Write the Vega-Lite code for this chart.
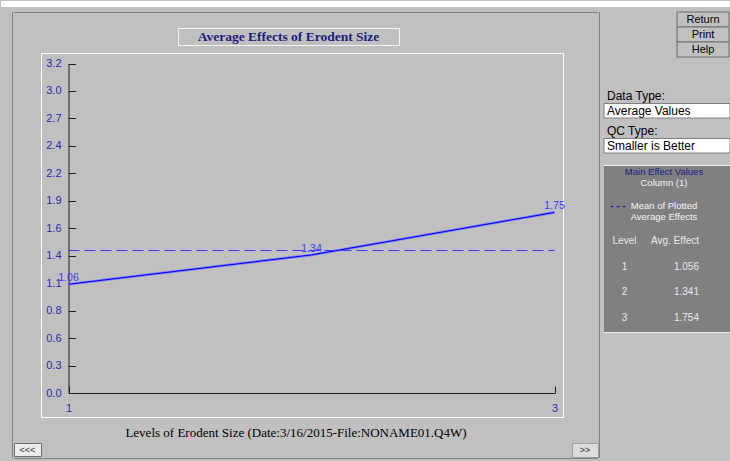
{
  "$schema": "https://vega.github.io/schema/vega-lite/v6.json",
  "usermeta": {"embedOptions": {"actions": false}},
  "background": "#c0c0c0",
  "padding": 0,
  "config": {
    "view": {"stroke": null},
    "font": "Liberation Sans",
    "axis": {
      "grid": false,
      "domainColor": "#1e1e1e",
      "tickColor": "#1e1e1e",
      "tickSize": -7,
      "labelColor": "#2c2ca6",
      "labelFont": "Liberation Sans",
      "labelFontSize": 11,
      "labelFlush": false,
      "labelOverlap": false
    }
  },
  "datasets": {
    "effects": [
      {"level": 1, "effect": 1.056},
      {"level": 2, "effect": 1.341},
      {"level": 3, "effect": 1.754}
    ],
    "buttons": [{"button": "Return"}, {"button": "Print"}, {"button": "Help"}],
    "dataType": [{"row": "label", "text": "Data Type:"}, {"row": "value", "text": "Average Values"}],
    "qcType": [{"row": "label", "text": "QC Type:"}, {"row": "value", "text": "Smaller is Better"}]
  },
  "spacing": 4,
  "vconcat": [
    {"width": 730, "height": 5, "view": {"fill": "#ffffff", "stroke": "#ffffff"}, "data": {"values": []}, "mark": "rect"},
    {
      "spacing": 0,
      "hconcat": [
        {"width": 11, "height": 452, "data": {"values": []}, "mark": "rect"},
        {"width": 1, "height": 446, "view": {"fill": "#808080"}, "data": {"values": []}, "mark": "rect"},
        {
          "spacing": 0,
          "vconcat": [
            {"width": 584, "height": 1, "view": {"fill": "#808080"}, "data": {"values": []}, "mark": "rect"},
            {"width": 1, "height": 14, "data": {"values": []}, "mark": "rect"},
            {
              "spacing": 0,
              "hconcat": [
                {"width": 163, "height": 1, "data": {"values": []}, "mark": "rect"},
                {
                  "width": 221,
                  "height": 17,
                  "view": {"stroke": "#f4f4f4"},
                  "data": {"values": [{"heading": "Average Effects of Erodent Size"}]},
                  "mark": {"type": "text", "font": "Liberation Serif", "fontSize": 13.5, "fontWeight": "bold", "color": "#1c1c7c"},
                  "encoding": {"text": {"field": "heading"}}
                }
              ]
            },
            {"width": 1, "height": 6, "data": {"values": []}, "mark": "rect"},
            {
              "spacing": 0,
              "hconcat": [
                {"width": 26, "height": 1, "data": {"values": []}, "mark": "rect"},
                {
                  "width": 522,
                  "height": 364,
                  "view": {"stroke": "#ffffff"},
                  "data": {"name": "effects"},
                  "encoding": {
                    "x": {
                      "field": "level",
                      "type": "quantitative",
                      "scale": {"domain": [1, 3], "range": [27.5, 513.5], "nice": false, "zero": false},
                      "axis": {
                        "values": [1, 2, 3],
                        "format": "d",
                        "offset": -24,
                        "labelPadding": 16,
                        "labelOverlap": false,
                        "labelSeparation": -1000,
                        "labelFlush": false,
                        "title": "Levels of Erodent Size (Date:3/16/2015-File:NONAME01.Q4W)",
                        "titleFont": "Liberation Serif",
                        "titleFontSize": 13,
                        "titleFontWeight": "normal",
                        "titleColor": "#000000",
                        "titleX": 254.5,
                        "titleY": 39.5,
                        "titleBaseline": "middle"
                      }
                    },
                    "y": {
                      "field": "effect",
                      "type": "quantitative",
                      "scale": {"domain": [0, 3.2], "range": [340, 10.5], "nice": false, "zero": false},
                      "axis": {
                        "values": [0, 0.2666667, 0.5333333, 0.8, 1.0666667, 1.3333333, 1.6, 1.8666667, 2.1333333, 2.4, 2.6666667, 2.9333333, 3.2],
                        "labelExpr": "['0.0','0.3','0.6','0.8','1.1','1.4','1.6','1.9','2.2','2.4','2.7','3.0','3.2'][round(datum.value * 12 / 3.2)]",
                        "offset": -27.5,
                        "labelPadding": 14.5,
                        "labelOverlap": false,
                        "labelFlush": false,
                        "title": null
                      }
                    }
                  },
                  "layer": [
                    {"mark": {"type": "line", "color": "#7a7aff", "strokeWidth": 2.6}},
                    {"mark": {"type": "line", "color": "#0000e6", "strokeWidth": 1}},
                    {
                      "mark": {"type": "rule", "color": "#3838ff", "strokeDash": [11, 5], "strokeWidth": 1},
                      "encoding": {
                        "x": {
                          "field": "level",
                          "aggregate": "min",
                          "type": "quantitative",
                          "axis": {
                            "values": [1, 2, 3],
                            "format": "d",
                            "offset": -24,
                            "labelPadding": 16,
                            "labelOverlap": false,
                            "labelSeparation": -1000,
                            "labelFlush": false,
                            "title": "Levels of Erodent Size (Date:3/16/2015-File:NONAME01.Q4W)",
                            "titleFont": "Liberation Serif",
                            "titleFontSize": 13,
                            "titleFontWeight": "normal",
                            "titleColor": "#000000",
                            "titleX": 254.5,
                            "titleY": 39.5,
                            "titleBaseline": "middle"
                          }
                        },
                        "x2": {"field": "level", "aggregate": "max"},
                        "y": {
                          "field": "effect",
                          "aggregate": "mean",
                          "type": "quantitative",
                          "axis": {
                            "values": [0, 0.2666667, 0.5333333, 0.8, 1.0666667, 1.3333333, 1.6, 1.8666667, 2.1333333, 2.4, 2.6666667, 2.9333333, 3.2],
                            "labelExpr": "['0.0','0.3','0.6','0.8','1.1','1.4','1.6','1.9','2.2','2.4','2.7','3.0','3.2'][round(datum.value * 12 / 3.2)]",
                            "offset": -27.5,
                            "labelPadding": 14.5,
                            "labelOverlap": false,
                            "labelFlush": false,
                            "title": null
                          }
                        }
                      }
                    },
                    {
                      "mark": {"type": "text", "color": "#3a3aff", "fontSize": 10.5, "dy": -6},
                      "encoding": {"text": {"field": "effect", "format": ".2f"}}
                    }
                  ]
                }
              ]
            },
            {"width": 1, "height": 2, "data": {"values": []}, "mark": "rect"},
            {
              "spacing": 0,
              "hconcat": [
                {
                  "width": 27,
                  "height": 13,
                  "view": {"fill": "#ececec", "stroke": "#6e6e6e"},
                  "data": {"values": [{"label": "<<<"}]},
                  "mark": {"type": "text", "fontSize": 9, "color": "#303030"},
                  "encoding": {"text": {"field": "label"}}
                },
                {"width": 529, "height": 1, "data": {"values": []}, "mark": "rect"},
                {
                  "width": 26,
                  "height": 14,
                  "view": {"fill": "#dcdcdc", "stroke": "#a0a0a0"},
                  "data": {"values": [{"label": ">>"}]},
                  "mark": {"type": "text", "fontSize": 9, "color": "#303030"},
                  "encoding": {"text": {"field": "label"}}
                }
              ]
            },
            {"width": 584, "height": 1, "view": {"fill": "#808080"}, "data": {"values": []}, "mark": "rect"}
          ]
        },
        {"width": 1, "height": 446, "view": {"fill": "#808080"}, "data": {"values": []}, "mark": "rect"},
        {"width": 3, "height": 1, "data": {"values": []}, "mark": "rect"},
        {
          "spacing": 0,
          "vconcat": [
            {
              "spacing": 0,
              "hconcat": [
                {"width": 72, "height": 1, "data": {"values": []}, "mark": "rect"},
                {
                  "width": 52,
                  "height": 45,
                  "data": {"name": "buttons"},
                  "encoding": {
                    "y": {"field": "button", "type": "nominal", "sort": null, "scale": {"type": "band", "paddingInner": 0, "paddingOuter": 0}, "axis": null}
                  },
                  "layer": [
                    {"mark": {"type": "rect", "fill": "#c0c0c0", "stroke": "#6e6e6e", "strokeWidth": 1}},
                    {"mark": {"type": "text", "fontSize": 11, "color": "#000000"}, "encoding": {"text": {"field": "button"}}}
                  ]
                }
              ]
            },
            {"width": 1, "height": 31, "data": {"values": []}, "mark": "rect"},
            {
              "width": 126,
              "height": 29,
              "data": {"name": "dataType"},
              "encoding": {
                "y": {"field": "row", "type": "nominal", "scale": {"type": "band", "domain": ["label", "value"], "paddingInner": 0, "paddingOuter": 0}, "axis": null}
              },
              "layer": [
                {"transform": [{"filter": "datum.row === 'value'"}], "mark": {"type": "rect", "fill": "#ffffff", "stroke": "#808080"}},
                {
                  "mark": {"type": "text", "align": "left", "fontSize": 12, "color": "#000000", "dx": 3},
                  "encoding": {
                    "x": {"datum": 0, "type": "quantitative", "scale": {"domain": [0, 1]}, "axis": null},
                    "text": {"field": "text"}
                  }
                }
              ]
            },
            {"width": 1, "height": 5, "data": {"values": []}, "mark": "rect"},
            {
              "width": 126,
              "height": 29,
              "data": {"name": "qcType"},
              "encoding": {
                "y": {"field": "row", "type": "nominal", "scale": {"type": "band", "domain": ["label", "value"], "paddingInner": 0, "paddingOuter": 0}, "axis": null}
              },
              "layer": [
                {"transform": [{"filter": "datum.row === 'value'"}], "mark": {"type": "rect", "fill": "#ffffff", "stroke": "#808080"}},
                {
                  "mark": {"type": "text", "align": "left", "fontSize": 12, "color": "#000000", "dx": 3},
                  "encoding": {
                    "x": {"datum": 0, "type": "quantitative", "scale": {"domain": [0, 1]}, "axis": null},
                    "text": {"field": "text"}
                  }
                }
              ]
            },
            {"width": 1, "height": 11, "data": {"values": []}, "mark": "rect"},
            {"width": 126, "height": 1, "view": {"fill": "#f0f0f0"}, "data": {"values": []}, "mark": "rect"},
            {
              "width": 126,
              "height": 58,
              "view": {"fill": "#808080"},
              "data": {"values": [
                {"line": "title", "col": "center", "text": "Main Effect Values"},
                {"line": "column", "col": "center", "text": "Column (1)"},
                {"line": "legend1", "col": "key", "text": "- - -"},
                {"line": "legend1", "col": "center", "text": "Mean of Plotted"},
                {"line": "legend2", "col": "center", "text": "Average Effects"}
              ]},
              "encoding": {
                "x": {"field": "col", "type": "nominal", "scale": {"type": "point", "domain": ["key", "center"], "range": [14, 60], "padding": 0}, "axis": null},
                "y": {"field": "line", "type": "nominal", "scale": {"type": "point", "domain": ["title", "column", "gap", "legend1", "legend2"], "range": [6, 51], "padding": 0}, "axis": null},
                "text": {"field": "text"}
              },
              "layer": [
                {"transform": [{"filter": "datum.line === 'title'"}], "mark": {"type": "text", "fontSize": 9.5, "color": "#1c1c8c"}},
                {"transform": [{"filter": "datum.col === 'key'"}], "mark": {"type": "text", "fontSize": 10, "fontWeight": "bold", "color": "#1c1ca0"}},
                {"transform": [{"filter": "datum.line !== 'title' && datum.col !== 'key'"}], "mark": {"type": "text", "fontSize": 9.5, "color": "#f4f4f4"}}
              ]
            },
            {
              "width": 126,
              "height": 108,
              "view": {"fill": "#808080"},
              "data": {"name": "effects"},
              "layer": [
                {
                  "data": {"values": [{"heading": "Level"}]},
                  "mark": {"type": "text", "fontSize": 10, "color": "#e8e8e8"},
                  "encoding": {
                    "x": {"datum": "level", "type": "nominal", "scale": {"type": "point", "domain": ["level", "effect"], "range": [20.5, 95], "padding": 0}, "axis": null},
                    "y": {"datum": "header", "type": "ordinal", "scale": {"type": "point", "domain": ["header", 1, 2, 3], "range": [17, 94], "padding": 0}, "axis": null},
                    "text": {"field": "heading"}
                  }
                },
                {
                  "data": {"values": [{"heading": "Avg. Effect"}]},
                  "mark": {"type": "text", "align": "right", "fontSize": 10, "color": "#e8e8e8"},
                  "encoding": {
                    "x": {"datum": "effect", "type": "nominal", "axis": null},
                    "y": {"datum": "header", "type": "ordinal", "axis": null},
                    "text": {"field": "heading"}
                  }
                },
                {
                  "mark": {"type": "text", "fontSize": 10, "color": "#e8e8e8"},
                  "encoding": {
                    "x": {"datum": "level", "type": "nominal", "axis": null},
                    "y": {"field": "level", "type": "ordinal", "axis": null},
                    "text": {"field": "level"}
                  }
                },
                {
                  "mark": {"type": "text", "align": "right", "fontSize": 10, "color": "#e8e8e8"},
                  "encoding": {
                    "x": {"datum": "effect", "type": "nominal", "axis": null},
                    "y": {"field": "level", "type": "ordinal", "axis": null},
                    "text": {"field": "effect", "format": ".3f"}
                  }
                }
              ]
            },
            {"width": 126, "height": 1, "view": {"fill": "#f0f0f0"}, "data": {"values": []}, "mark": "rect"}
          ]
        }
      ]
    }
  ]
}
